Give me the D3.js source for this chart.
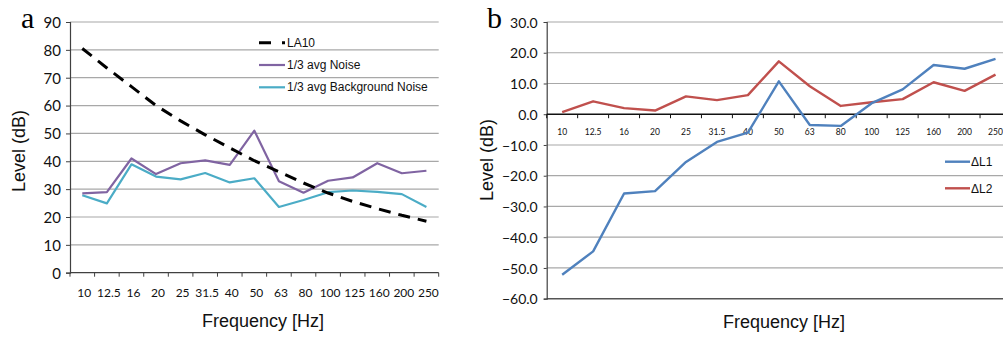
<!DOCTYPE html>
<html>
<head>
<meta charset="utf-8">
<script src="https://cdn.jsdelivr.net/npm/d3@7"></script>
<style>
  html, body { margin: 0; padding: 0; background: #fff; }
  svg { display: block; }
</style>
</head>
<body>
<svg id="chart" width="1003" height="338"></svg>
<script>
// Third-octave band centre frequencies (Hz)
const bands = ["10", "12.5", "16", "20", "25", "31.5", "40", "50", "63", "80", "100", "125", "160", "200", "250"];

// Panel a: levels in dB
const la10 = [80.5, 73.5, 66.8, 60.0, 54.5, 49.5, 44.8, 40.2, 36.2, 32.2, 28.6, 25.6, 23.0, 20.6, 18.5];
const avgNoise = [28.5, 28.9, 41.0, 35.4, 39.3, 40.3, 38.7, 51.0, 32.8, 28.7, 33.0, 34.2, 39.3, 35.7, 36.6];
const avgBackground = [27.8, 24.9, 38.9, 34.5, 33.5, 35.8, 32.4, 33.9, 23.6, 26.1, 28.9, 29.5, 29.0, 28.2, 23.6];
const ticksA = [0, 10, 20, 30, 40, 50, 60, 70, 80, 90];

// Panel b: level differences in dB
const deltaL1 = [-52.2, -44.6, -25.8, -25.0, -15.5, -9.0, -6.0, 10.7, -3.5, -3.8, 3.6, 8.1, 16.0, 14.8, 18.0];
const deltaL2 = [0.7, 4.2, 2.0, 1.2, 5.8, 4.6, 6.2, 17.2, 9.1, 2.7, 3.9, 4.9, 10.4, 7.6, 12.9];
const ticksB = [-60, -50, -40, -30, -20, -10, 0, 10, 20, 30];

const svg = d3.select("#chart");
const tickFont = "Lato, 'Liberation Sans', sans-serif";
const textFont = "'Liberation Sans', Arial, sans-serif";
const gridColor = "#a8a8a8";

/* ---------------- Panel a ---------------- */
{
  const x = d3.scaleBand().domain(bands).range([70, 438.7]);
  const y = d3.scaleLinear().domain([0, 90]).range([272.7, 22]);
  const g = svg.append("g");

  // horizontal gridlines
  g.selectAll("line.grid").data(ticksA.filter(d => d > 0)).join("line")
    .attr("x1", 70).attr("x2", 438.7)
    .attr("y1", d => y(d)).attr("y2", d => y(d))
    .attr("stroke", gridColor).attr("stroke-width", 1.2);

  // y axis
  const ya = g.append("g").attr("transform", "translate(70,0)")
    .call(d3.axisLeft(y).tickValues(ticksA).tickSize(4).tickPadding(5));
  ya.select(".domain").attr("stroke", "#404040").attr("stroke-width", 1.2);
  ya.selectAll(".tick line").attr("stroke", "#404040");
  ya.selectAll(".tick text").attr("font-family", tickFont).attr("font-size", 15)
    .attr("fill", "#111").attr("dy", "0.36em");

  // x axis at 0 dB, ticks between categories
  const xa = g.append("g").attr("transform", `translate(0,${y(0)})`);
  xa.append("line").attr("x1", 70).attr("x2", 438.7).attr("stroke", "#404040").attr("stroke-width", 1.2);
  xa.selectAll("line.t").data(d3.range(bands.length + 1)).join("line")
    .attr("x1", i => 70 + i * x.step()).attr("x2", i => 70 + i * x.step())
    .attr("y1", 0).attr("y2", 4).attr("stroke", "#404040");
  xa.selectAll("text").data(bands).join("text")
    .attr("x", d => x(d) + x.bandwidth() / 2 + 2)
    .attr("y", 24)
    .attr("text-anchor", "middle")
    .attr("font-family", tickFont).attr("font-size", 12).attr("fill", "#111")
    .text(d => d);

  const line = d3.line().x((d, i) => x(bands[i]) + x.bandwidth() / 2).y(d => y(d));

  g.append("path").datum(avgBackground).attr("d", line)
    .attr("fill", "none").attr("stroke", "#4bacc6").attr("stroke-width", 2.2).attr("stroke-linejoin", "round");
  g.append("path").datum(avgNoise).attr("d", line)
    .attr("fill", "none").attr("stroke", "#8064a2").attr("stroke-width", 2.2).attr("stroke-linejoin", "round");
  g.append("path").datum(la10).attr("d", line)
    .attr("fill", "none").attr("stroke", "#000").attr("stroke-width", 3)
    .attr("stroke-dasharray", "12,8");

  // legend
  const lg = g.append("g").attr("font-family", textFont).attr("font-size", 12).attr("fill", "#111");
  lg.append("line").attr("x1", 259).attr("x2", 285).attr("y1", 42.7).attr("y2", 42.7)
    .attr("stroke", "#000").attr("stroke-width", 3).attr("stroke-dasharray", "12,11,3");
  lg.append("text").attr("x", 287).attr("y", 46.8).text("LA10");
  lg.append("line").attr("x1", 259).attr("x2", 285).attr("y1", 65).attr("y2", 65)
    .attr("stroke", "#8064a2").attr("stroke-width", 2.2);
  lg.append("text").attr("x", 287).attr("y", 69).text("1/3 avg Noise");
  lg.append("line").attr("x1", 259).attr("x2", 285).attr("y1", 87.3).attr("y2", 87.3)
    .attr("stroke", "#4bacc6").attr("stroke-width", 2.2);
  lg.append("text").attr("x", 287).attr("y", 91.3).text("1/3 avg Background Noise");

  // titles
  g.append("text").attr("transform", "translate(19,151) rotate(-90)")
    .attr("text-anchor", "middle").attr("dominant-baseline", "central")
    .attr("font-family", textFont).attr("font-size", 18).attr("fill", "#111").text("Level (dB)");
  g.append("text").attr("x", 263).attr("y", 327)
    .attr("text-anchor", "middle")
    .attr("font-family", textFont).attr("font-size", 18).attr("fill", "#111").text("Frequency [Hz]");
  g.append("text").attr("x", 21).attr("y", 28.3)
    .attr("font-family", "'Liberation Serif', 'DejaVu Serif', serif").attr("font-size", 30).attr("fill", "#000").text("a");
}

/* ---------------- Panel b ---------------- */
{
  const x = d3.scaleBand().domain(bands).range([546.7, 1011]);
  const y = d3.scaleLinear().domain([-60, 30]).range([298.7, 22]);
  const g = svg.append("g");

  g.selectAll("line.grid").data(ticksB.filter(d => d > -60 && d !== 0)).join("line")
    .attr("x1", 546.7).attr("x2", 1011)
    .attr("y1", d => y(d)).attr("y2", d => y(d))
    .attr("stroke", gridColor).attr("stroke-width", 1.2);
  // lower plot border
  g.append("line").attr("x1", 546.7).attr("x2", 1011).attr("y1", y(-60)).attr("y2", y(-60))
    .attr("stroke", "#555").attr("stroke-width", 1.6);

  const ya = g.append("g").attr("transform", "translate(546.7,0)")
    .call(d3.axisLeft(y).tickValues(ticksB).tickSize(3).tickPadding(6).tickFormat(d3.format(".1f")));
  ya.select(".domain").attr("stroke", "#404040").attr("stroke-width", 1.2);
  ya.selectAll(".tick line").attr("stroke", "#404040");
  ya.selectAll(".tick text").attr("font-family", tickFont).attr("font-size", 14)
    .attr("fill", "#111").attr("dy", "0.36em");

  // category axis crossing at 0 dB
  const xa = g.append("g").attr("transform", `translate(0,${y(0)})`);
  xa.append("line").attr("x1", 546.7).attr("x2", 1011).attr("stroke", "#111").attr("stroke-width", 1.3);
  xa.selectAll("line.t").data(d3.range(bands.length + 1)).join("line")
    .attr("x1", i => 546.7 + i * x.step()).attr("x2", i => 546.7 + i * x.step())
    .attr("y1", 0).attr("y2", 4).attr("stroke", "#111");
  xa.selectAll("text").data(bands).join("text")
    .attr("x", d => x(d) + x.bandwidth() / 2)
    .attr("y", 21)
    .attr("text-anchor", "middle")
    .attr("font-family", tickFont).attr("font-size", 8.5).attr("fill", "#111")
    .text(d => d);

  const line = d3.line().x((d, i) => x(bands[i]) + x.bandwidth() / 2).y(d => y(d));
  g.append("path").datum(deltaL2).attr("d", line)
    .attr("fill", "none").attr("stroke", "#c0504d").attr("stroke-width", 2.4).attr("stroke-linejoin", "round");
  g.append("path").datum(deltaL1).attr("d", line)
    .attr("fill", "none").attr("stroke", "#4f81bd").attr("stroke-width", 2.4).attr("stroke-linejoin", "round");

  const lg = g.append("g").attr("font-family", textFont).attr("font-size", 12).attr("fill", "#111");
  lg.append("line").attr("x1", 945).attr("x2", 970).attr("y1", 161.7).attr("y2", 161.7)
    .attr("stroke", "#4f81bd").attr("stroke-width", 2.4);
  lg.append("text").attr("x", 971).attr("y", 166).text("ΔL1");
  lg.append("line").attr("x1", 945).attr("x2", 970).attr("y1", 188.3).attr("y2", 188.3)
    .attr("stroke", "#c0504d").attr("stroke-width", 2.4);
  lg.append("text").attr("x", 971).attr("y", 193).text("ΔL2");

  g.append("text").attr("transform", "translate(487,160) rotate(-90)")
    .attr("text-anchor", "middle").attr("dominant-baseline", "central")
    .attr("font-family", textFont).attr("font-size", 18).attr("fill", "#111").text("Level (dB)");
  g.append("text").attr("x", 784).attr("y", 328)
    .attr("text-anchor", "middle")
    .attr("font-family", textFont).attr("font-size", 18).attr("fill", "#111").text("Frequency [Hz]");
  g.append("text").attr("x", 487).attr("y", 28.3)
    .attr("font-family", "'Liberation Serif', 'DejaVu Serif', serif").attr("font-size", 30).attr("fill", "#000").text("b");
}
</script>
</body>
</html>
